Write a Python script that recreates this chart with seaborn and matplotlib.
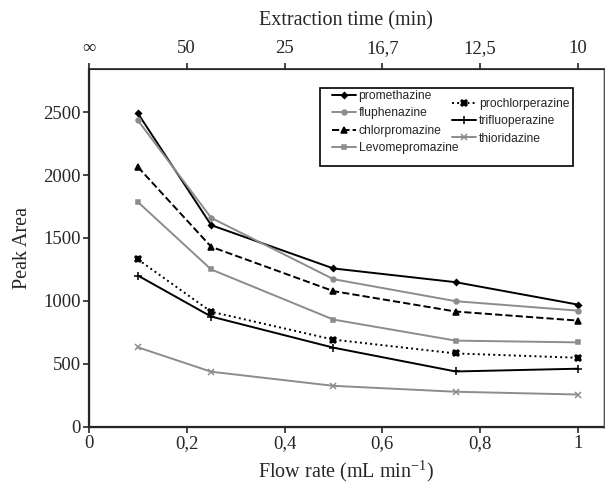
import matplotlib
matplotlib.use("Agg")
import matplotlib.pyplot as plt
from matplotlib.patches import Rectangle
import seaborn as sns

# flow rate (mL/min) and peak areas
flow = [0.1, 0.25, 0.5, 0.75, 1.0]
promethazine = [2490, 1602, 1258, 1149, 971]
fluphenazine = [2434, 1660, 1173, 998, 923]
chlorpromazine = [2064, 1430, 1078, 916, 844]
levomepromazine = [1786, 1250, 852, 685, 671]
prochlorperazine = [1330, 914, 693, 583, 549]
trifluoperazine = [1202, 876, 629, 440, 462]
thioridazine = [632, 438, 326, 279, 257]

bottom_ticks = [0, 0.2, 0.4, 0.6, 0.8, 1.0]
bottom_labels = ["0", "0,2", "0,4", "0,6", "0,8", "1"]
top_labels = ["\u221e", "50", "25", "16,7", "12,5", "10"]

sns.set_style("ticks")
plt.rcParams['font.family'] = ['Liberation Serif', 'DejaVu Serif']

fig = plt.figure(figsize=(6.05, 4.84), dpi=100)
ax = fig.add_axes([0.147, 0.118, 0.851, 0.739])

gray = "#8c8c8c"
series = [
    ("promethazine", promethazine, "black", "-", "D", 3.0),
    ("fluphenazine", fluphenazine, gray, "-", "o", 3.5),
    ("chlorpromazine", chlorpromazine, "black", "--", "^", 4.0),
    ("Levomepromazine", levomepromazine, gray, "-", "s", 3.5),
    ("prochlorperazine", prochlorperazine, "black", ":", "X", 5.0),
    ("trifluoperazine", trifluoperazine, "black", "-", "+", 6),
    ("thioridazine", thioridazine, gray, "-", "x", 5),
]
for name, vals, col, ls, mk, ms in series:
    sns.lineplot(x=flow, y=vals, ax=ax, color=col, linestyle=ls, marker=mk,
                 markersize=ms, markeredgecolor=col, markeredgewidth=1.1,
                 linewidth=1.4, label=name)

ax.set_xlim(0, 1.053)
ax.set_ylim(0, 2840)
ax.set_yticks([0, 500, 1000, 1500, 2000, 2500])
ax.set_xticks(bottom_ticks)
ax.set_xticklabels(bottom_labels)
ax.tick_params(labelsize=13.5, direction="out", length=4, width=1.2, pad=2)
ax.set_xlabel("Flow rate (mL min$^{\\mathregular{-1}}$)", fontsize=14.5, labelpad=4)
ax.set_ylabel("Peak Area", fontsize=14.5, labelpad=8)

for side in ["left", "bottom"]:
    ax.spines[side].set_linewidth(1.6)
ax.spines["top"].set_linewidth(1.2)
ax.spines["right"].set_linewidth(1.0)
ax.spines["right"].set_color("#555555")

top = ax.twiny()
top.set_xlim(ax.get_xlim())
top.set_xticks(bottom_ticks)
top.set_xticklabels(top_labels)
top.tick_params(labelsize=13.5, direction="out", length=4, width=1.2, pad=5)
top.set_xlabel("Extraction time (min)", fontsize=14.5, labelpad=10)
top.spines["right"].set_linewidth(1.0)
top.spines["right"].set_color("#555555")

# legend: frame box with two columns, the second shifted down a bit
ax.add_patch(Rectangle((0.449, 0.729), 0.491, 0.218, transform=ax.transAxes,
                       fill=True, facecolor="white", edgecolor="black",
                       linewidth=1.2, zorder=4))
handles, labels = ax.get_legend_handles_labels()
lkw = dict(frameon=False, handlelength=1.95, handletextpad=0.25,
           labelspacing=0.45, borderpad=0, borderaxespad=0,
           prop={"family": "Liberation Sans", "size": 8.7})
leg1 = ax.legend(handles[:4], labels[:4], loc="upper left",
                 bbox_to_anchor=(0.472, 0.942), **lkw)
leg1.set_zorder(5)
ax.add_artist(leg1)
leg2 = ax.legend(handles[4:], labels[4:], loc="upper left",
                 bbox_to_anchor=(0.706, 0.92), **lkw)
leg2.set_zorder(5)

fig.savefig("out.png", dpi=100)
